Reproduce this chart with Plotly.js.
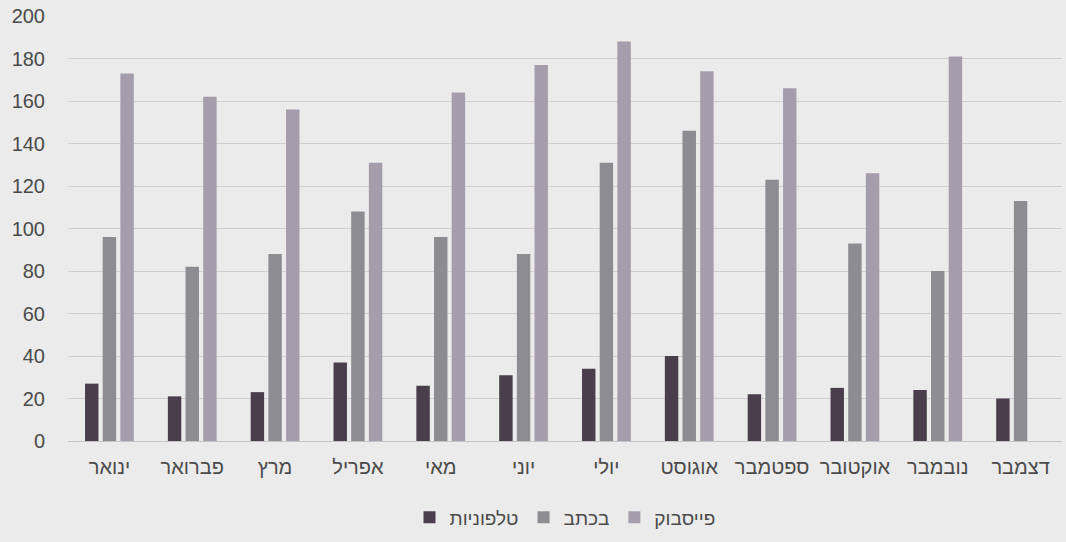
<!DOCTYPE html>
<html><head><meta charset="utf-8">
<script src="https://cdn.plot.ly/plotly-3.0.1.min.js"></script>
<style>html,body{margin:0;padding:0;background:#ebebeb;}#c{width:1066px;height:542px;}</style>
</head><body><div id="c"></div>
<script>
const months = ["ינואר","פברואר","מרץ","אפריל","מאי","יוני","יולי","אוגוסט","ספטמבר","אוקטובר","נובמבר","דצמבר"];
const phone = [27,21,23,37,26,31,34,40,22,25,24,20];
const written = [96,82,88,108,96,88,131,146,123,93,80,113];
const facebook = [173,162,156,131,164,177,188,174,166,126,181,null];

const font = {family:"Liberation Sans, DejaVu Sans, sans-serif", size:18, color:"#4a4a4a"};
const data = [
  {type:"bar", name:"טלפוניות", x:months, y:phone, marker:{color:"#4a3e4c"}},
  {type:"bar", name:"בכתב", x:months, y:written, marker:{color:"#8d8c90"}},
  {type:"bar", name:"פייסבוק", x:months, y:facebook, marker:{color:"#a59dac"}}
];
const layout = {
  width:1066, height:542,
  paper_bgcolor:"#ebebeb", plot_bgcolor:"#ebebeb",
  margin:{l:68, r:4, t:16, b:101},
  barmode:"group", bargap:0.36, bargroupgap:0.24,
  font:font,
  xaxis:{showgrid:false, showline:true, linecolor:"#c4c4c4", tickfont:{size:20, color:"#4a4a4a"}, ticks:"", ticklabelstandoff:8},
  yaxis:{range:[0,200], dtick:20, gridcolor:"#d2cdd0", zeroline:false, tickfont:{size:20, color:"#4a4a4a"}, ticks:"", ticklabelstandoff:22},
  legend:{orientation:"h", x:0.5, xanchor:"center", y:-0.135, yanchor:"top", font:{size:19, color:"#4a4a4a"}},
  showlegend:true
};
Plotly.newPlot("c", data, layout, {displayModeBar:false, staticPlot:true});
</script></body></html>
